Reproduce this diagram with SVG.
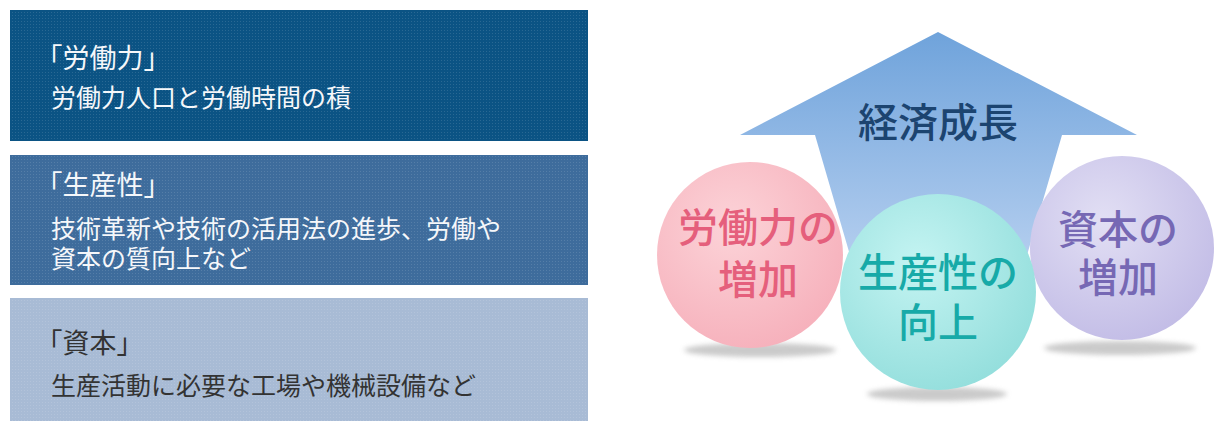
<svg xmlns="http://www.w3.org/2000/svg" width="1214" height="421" viewBox="0 0 1214 421">
  <style>
    .jp { font-family: "Noto Sans CJK JP", "Noto Sans CJK SC", sans-serif; }
    .head { font-size: 27px; font-feature-settings: "halt"; }
    .body { font-size: 25px; }
    .light { fill: #f5f7fa; }
    .dark { fill: #333333; }
    .big { font-size: 40px; text-anchor: middle; font-weight: 500; }
    .shadow { fill: #b9b9b9; opacity: 0.75; filter: url(#blur); }
  </style>
  <defs>
    <pattern id="dots" width="3" height="3" patternUnits="userSpaceOnUse">
      <rect x="0" y="0" width="1" height="1" fill="#ffffff" opacity="0.12"/>
    </pattern>
    <linearGradient id="arrowGrad" x1="0" y1="32" x2="0" y2="260" gradientUnits="userSpaceOnUse">
      <stop offset="0" stop-color="#6fa3db"/>
      <stop offset="1" stop-color="#b4ceef"/>
    </linearGradient>
    <radialGradient id="pinkGrad" cx="0.4" cy="0.35" r="0.7">
      <stop offset="0" stop-color="#fcd3d8"/>
      <stop offset="1" stop-color="#f6b0bb"/>
    </radialGradient>
    <radialGradient id="tealGrad" cx="0.4" cy="0.35" r="0.7">
      <stop offset="0" stop-color="#c4f4f2"/>
      <stop offset="1" stop-color="#93dedc"/>
    </radialGradient>
    <radialGradient id="purpleGrad" cx="0.4" cy="0.35" r="0.7">
      <stop offset="0" stop-color="#e2dff4"/>
      <stop offset="1" stop-color="#c2bce6"/>
    </radialGradient>
    <filter id="blur" x="-20%" y="-100%" width="140%" height="300%">
      <feGaussianBlur stdDeviation="2.5"/>
    </filter>
  </defs>

  <rect width="1214" height="421" fill="#ffffff"/>

  <g id="box-labor">
    <rect x="10" y="10" width="578" height="131" fill="#0b5384"/>
    <rect x="10" y="10" width="578" height="131" fill="url(#dots)"/>
    <text class="jp head light" x="49" y="68">「労働力」</text>
    <text class="jp body light" x="51" y="107">労働力人口と労働時間の積</text>
  </g>

  <g id="box-productivity">
    <rect x="10" y="155" width="578" height="130" fill="#3e6c9c"/>
    <rect x="10" y="155" width="578" height="130" fill="url(#dots)"/>
    <text class="jp head light" x="49" y="195">「生産性」</text>
    <text class="jp body light"><tspan x="51" y="238">技術革新や技術の活用法の進歩、労働や</tspan><tspan x="51" y="268">資本の質向上など</tspan></text>
  </g>

  <g id="box-capital">
    <rect x="10" y="298" width="578" height="123" fill="#a8bbd5"/>
    <rect x="10" y="298" width="578" height="123" fill="url(#dots)"/>
    <text class="jp head dark" x="49" y="353">「資本」</text>
    <text class="jp body dark" x="51" y="395">生産活動に必要な工場や機械設備など</text>
  </g>

  <g id="connectors"></g>

  <g id="arrow-growth">
    <polygon points="938,32 1137,135 1062,135 1025,262 852,262 815,135 740,135" fill="url(#arrowGrad)"/>
    <text class="jp big" x="938" y="137" fill="#1c4470">経済成長</text>
  </g>

  <g id="circle-labor">
    <ellipse class="shadow" cx="760" cy="350" rx="76" ry="7"/>
    <circle cx="750" cy="255" r="93" fill="url(#pinkGrad)"/>
    <text class="jp big" fill="#e55f7c"><tspan x="758" y="242">労働力の</tspan><tspan x="758" y="294">増加</tspan></text>
  </g>

  <g id="circle-capital">
    <ellipse class="shadow" cx="1120" cy="348" rx="76" ry="7"/>
    <circle cx="1122" cy="248" r="92" fill="url(#purpleGrad)"/>
    <text class="jp big" fill="#7668b4"><tspan x="1118" y="244">資本の</tspan><tspan x="1118" y="292">増加</tspan></text>
  </g>

  <g id="circle-productivity">
    <ellipse class="shadow" cx="937" cy="394" rx="70" ry="7"/>
    <circle cx="938" cy="292" r="98" fill="url(#tealGrad)"/>
    <text class="jp big" fill="#17aaa8"><tspan x="938" y="287">生産性の</tspan><tspan x="938" y="337">向上</tspan></text>
  </g>
</svg>
